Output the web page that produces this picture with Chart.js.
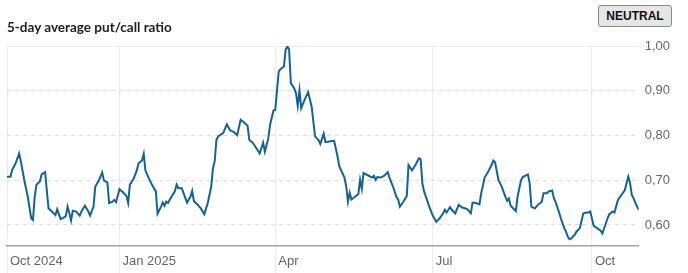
<!DOCTYPE html>
<html>
<head>
<meta charset="utf-8">
<script src="https://cdn.jsdelivr.net/npm/chart.js@4.4.1/dist/chart.umd.min.js"></script>
<style>
  html, body { margin: 0; padding: 0; background: #fff; }
  #wrap { position: relative; width: 688px; height: 273px; overflow: hidden; }
  #title {
    position: absolute; left: 7px; top: 19px;
    font: 700 13.5px Lato, "Liberation Sans", sans-serif; color: #222;
  }
  #badge {
    position: absolute; left: 598px; top: 5px; width: 72px; height: 20px;
    border: 1px solid #8a8a8a; border-radius: 3px; background: #e6e6e6;
    font: 700 12px "Liberation Sans", Arial, sans-serif; color: #111;
    text-align: center; line-height: 20px;
  }
  #chart { position: absolute; left: 0; top: 0; }
</style>
</head>
<body>
<div id="wrap">
  <canvas id="chart"></canvas>
  <div id="title">5-day average put/call ratio</div>
  <div id="badge">NEUTRAL</div>
</div>
<script>
// Get canvas element and context
const canvas = document.getElementById('chart');
const ctx = canvas.getContext('2d');
canvas.style.width = '688px';
canvas.style.height = '273px';

// Data
const dates = [
  '2024-10-28', '2024-10-30', '2024-10-31', '2024-11-02', '2024-11-04', '2024-11-05', '2024-11-07', '2024-11-09',
  '2024-11-11', '2024-11-12', '2024-11-13', '2024-11-14', '2024-11-16', '2024-11-17', '2024-11-19', '2024-11-21',
  '2024-11-23', '2024-11-25', '2024-11-26', '2024-11-28', '2024-11-30', '2024-12-01', '2024-12-02', '2024-12-03',
  '2024-12-04', '2024-12-05', '2024-12-07', '2024-12-09', '2024-12-10', '2024-12-12', '2024-12-14', '2024-12-15',
  '2024-12-17', '2024-12-18', '2024-12-20', '2024-12-22', '2024-12-23', '2024-12-25', '2024-12-26', '2024-12-28',
  '2024-12-29', '2024-12-30', '2025-01-01', '2025-01-03', '2025-01-05', '2025-01-06', '2025-01-07', '2025-01-09',
  '2025-01-11', '2025-01-12', '2025-01-14', '2025-01-15', '2025-01-16', '2025-01-18', '2025-01-20', '2025-01-22',
  '2025-01-23', '2025-01-25', '2025-01-26', '2025-01-27', '2025-01-28', '2025-01-29', '2025-01-31', '2025-02-02',
  '2025-02-03', '2025-02-04', '2025-02-06', '2025-02-07', '2025-02-09', '2025-02-11', '2025-02-12', '2025-02-13',
  '2025-02-15', '2025-02-17', '2025-02-19', '2025-02-21', '2025-02-23', '2025-02-24', '2025-02-25', '2025-02-26',
  '2025-02-27', '2025-03-02', '2025-03-04', '2025-03-06', '2025-03-08', '2025-03-10', '2025-03-12', '2025-03-14',
  '2025-03-16', '2025-03-17', '2025-03-19', '2025-03-21', '2025-03-23', '2025-03-25', '2025-03-26', '2025-03-28',
  '2025-03-29', '2025-03-31', '2025-04-01', '2025-04-03', '2025-04-04', '2025-04-06', '2025-04-07', '2025-04-08',
  '2025-04-09', '2025-04-10', '2025-04-12', '2025-04-13', '2025-04-14', '2025-04-15', '2025-04-16', '2025-04-18',
  '2025-04-20', '2025-04-22', '2025-04-24', '2025-04-26', '2025-04-27', '2025-04-29', '2025-04-30', '2025-05-03',
  '2025-05-05', '2025-05-07', '2025-05-08', '2025-05-11', '2025-05-12', '2025-05-13', '2025-05-14', '2025-05-15',
  '2025-05-17', '2025-05-19', '2025-05-20', '2025-05-21', '2025-05-22', '2025-05-25', '2025-05-27', '2025-05-28',
  '2025-05-29', '2025-05-30', '2025-06-01', '2025-06-03', '2025-06-05', '2025-06-06', '2025-06-08', '2025-06-10',
  '2025-06-11', '2025-06-12', '2025-06-14', '2025-06-16', '2025-06-17', '2025-06-19', '2025-06-21', '2025-06-23',
  '2025-06-24', '2025-06-25', '2025-06-26', '2025-06-29', '2025-07-01', '2025-07-03', '2025-07-05', '2025-07-07',
  '2025-07-08', '2025-07-09', '2025-07-11', '2025-07-12', '2025-07-14', '2025-07-16', '2025-07-18', '2025-07-20',
  '2025-07-21', '2025-07-23', '2025-07-24', '2025-07-26', '2025-07-28', '2025-07-29', '2025-07-31', '2025-08-02',
  '2025-08-04', '2025-08-05', '2025-08-06', '2025-08-08', '2025-08-09', '2025-08-10', '2025-08-12', '2025-08-13',
  '2025-08-14', '2025-08-15', '2025-08-17', '2025-08-18', '2025-08-19', '2025-08-21', '2025-08-22', '2025-08-25',
  '2025-08-26', '2025-08-27', '2025-08-29', '2025-08-31', '2025-09-02', '2025-09-03', '2025-09-05', '2025-09-06',
  '2025-09-08', '2025-09-09', '2025-09-10', '2025-09-12', '2025-09-13', '2025-09-15', '2025-09-16', '2025-09-17',
  '2025-09-18', '2025-09-19', '2025-09-21', '2025-09-22', '2025-09-24', '2025-09-26', '2025-09-28', '2025-09-29',
  '2025-09-30', '2025-10-02', '2025-10-04', '2025-10-06', '2025-10-07', '2025-10-10', '2025-10-11', '2025-10-13',
  '2025-10-14', '2025-10-16', '2025-10-18', '2025-10-20', '2025-10-21', '2025-10-22', '2025-10-23', '2025-10-24',
  '2025-10-25', '2025-10-26', '2025-10-28'
];
const ratio = [
  0.708, 0.708, 0.723, 0.738, 0.760, 0.742, 0.700, 0.663,
  0.615, 0.611, 0.663, 0.690, 0.697, 0.713, 0.718, 0.637,
  0.630, 0.622, 0.635, 0.613, 0.617, 0.620, 0.641, 0.626,
  0.610, 0.632, 0.630, 0.621, 0.630, 0.643, 0.630, 0.621,
  0.641, 0.686, 0.699, 0.717, 0.699, 0.695, 0.649, 0.652,
  0.656, 0.651, 0.680, 0.673, 0.665, 0.649, 0.690, 0.702,
  0.722, 0.738, 0.744, 0.759, 0.721, 0.704, 0.688, 0.675,
  0.625, 0.641, 0.650, 0.643, 0.652, 0.649, 0.663, 0.675,
  0.690, 0.682, 0.682, 0.671, 0.650, 0.663, 0.676, 0.653,
  0.646, 0.637, 0.624, 0.649, 0.686, 0.727, 0.742, 0.790,
  0.798, 0.806, 0.825, 0.811, 0.808, 0.801, 0.835, 0.829,
  0.822, 0.790, 0.784, 0.772, 0.760, 0.784, 0.764, 0.794,
  0.824, 0.856, 0.857, 0.943, 0.948, 0.954, 0.992, 0.999,
  0.992, 0.917, 0.905, 0.894, 0.866, 0.901, 0.861, 0.880,
  0.897, 0.865, 0.798, 0.790, 0.781, 0.804, 0.785, 0.787,
  0.788, 0.753, 0.731, 0.706, 0.686, 0.652, 0.672, 0.657,
  0.663, 0.669, 0.701, 0.681, 0.716, 0.710, 0.706, 0.710,
  0.701, 0.707, 0.706, 0.710, 0.718, 0.706, 0.686, 0.663,
  0.657, 0.641, 0.652, 0.665, 0.734, 0.722, 0.734, 0.749,
  0.747, 0.693, 0.675, 0.641, 0.621, 0.607, 0.615, 0.626,
  0.634, 0.628, 0.640, 0.634, 0.626, 0.645, 0.639, 0.637,
  0.635, 0.626, 0.650, 0.649, 0.646, 0.671, 0.706, 0.719,
  0.734, 0.744, 0.740, 0.700, 0.693, 0.684, 0.663, 0.654,
  0.659, 0.643, 0.635, 0.631, 0.663, 0.700, 0.707, 0.713,
  0.693, 0.641, 0.637, 0.646, 0.652, 0.671, 0.671, 0.675,
  0.677, 0.660, 0.651, 0.628, 0.615, 0.593, 0.585, 0.574,
  0.568, 0.570, 0.578, 0.585, 0.593, 0.626, 0.628, 0.628,
  0.630, 0.598, 0.593, 0.587, 0.581, 0.615, 0.624, 0.630,
  0.628, 0.656, 0.667, 0.678, 0.693, 0.708, 0.694, 0.667,
  0.660, 0.650, 0.634
];

// Axis ticks
const tickDates = ['2024-10-28', '2025-01-01', '2025-04-01', '2025-07-01', '2025-10-01'];
const tickLabels = ['Oct 2024', 'Jan 2025', 'Apr', 'Jul', 'Oct'];
const yTicks = [0.6, 0.7, 0.8, 0.9, 1.0];

const DAY = 86400000;
const start = Date.parse(dates[0]);
const dayOf = d => (Date.parse(d) - start) / DAY;

const points = dates.map((d, i) => ({ x: dayOf(d), y: ratio[i] }));

const config = {
    type: 'line',
    data: {
        datasets: [{
            data: points,
            borderColor: '#17628f',
            borderWidth: 2,
            pointRadius: 0,
            tension: 0
        }]
    },
    options: {
        responsive: false,
        animation: false,
        layout: {
            padding: { left: 7, top: 46, right: 12, bottom: 0 }
        },
        plugins: {
            legend: { display: false },
            tooltip: { enabled: false }
        },
        scales: {
            x: {
                type: 'linear',
                min: 0,
                max: dayOf('2025-10-28'),
                afterBuildTicks: scale => {
                    scale.ticks = tickDates.map(d => ({ value: dayOf(d) }));
                },
                // grid ticks run down through the label strip, so fix the height
                afterFit: scale => {
                    scale.height = 27;
                },
                grid: {
                    color: '#ebebeb',
                    tickColor: '#ebebeb',
                    tickLength: 27
                },
                border: {
                    color: '#a3a3a3',
                    width: 1.5
                },
                ticks: {
                    align: 'start',
                    labelOffset: 3,
                    padding: -19,
                    maxRotation: 0,
                    autoSkip: false,
                    color: '#666',
                    font: { family: 'Liberation Sans', size: 13 },
                    callback: (v, i) => tickLabels[i]
                }
            },
            y: {
                position: 'right',
                min: 0.553,
                max: 1.0,
                afterBuildTicks: scale => {
                    scale.ticks = yTicks.map(v => ({ value: v }));
                },
                grid: {
                    color: ctx => ctx.tick && ctx.tick.value === 1 ? '#ebebeb' : '#dcdcdc',
                    drawTicks: false
                },
                border: {
                    display: false,
                    dash: ctx => ctx.tick && ctx.tick.value === 1 ? [] : [4, 4]
                },
                ticks: {
                    padding: 6,
                    color: '#666',
                    font: { family: 'Liberation Sans', size: 13 },
                    callback: v => v.toFixed(2).replace('.', ',')
                }
            }
        }
    }
};

canvas.width = 688;
canvas.height = 273;
const putCallChart = new Chart(ctx, config);
</script>
</body>
</html>
